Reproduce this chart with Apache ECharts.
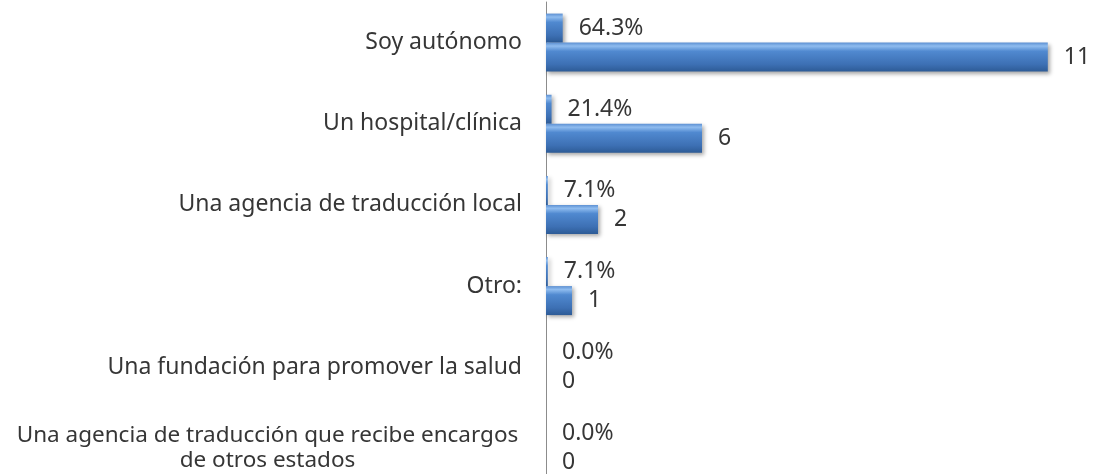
<!DOCTYPE html>
<html>
<head>
<meta charset="utf-8">
<script src="https://cdn.jsdelivr.net/npm/echarts@6/dist/echarts.min.js"></script>
<style>
  html, body { margin: 0; padding: 0; background: #fff; }
  #chart { width: 1097px; height: 474px; }
</style>
</head>
<body>
<div id="chart"></div>
<script>
const categories = [
  'Soy autónomo',
  'Un hospital/clínica',
  'Una agencia de traducción local',
  'Otro:',
  'Una fundación para promover la salud',
  'Una agencia de traducción que recibe encargos\nde otros estados',
]
// share of answers (fraction) and count of answers
const shares = [0.643, 0.214, 0.071, 0.071, 0, 0]
const counts = [11, 6, 2, 1, 0, 0]
// drawn length of the count bars (first bar is drawn longer than its value)
const countBars = [19.3, 6, 2, 1, 0, 0]

const textColor = '#363636'
const font = 'Noto Sans'
const fontSize = 23

const barFill = new echarts.graphic.LinearGradient(0, 0, 0, 1, [
  { offset: 0, color: '#5d90d2' },
  { offset: 0.12, color: '#8fbcef' },
  { offset: 0.3, color: '#5089d0' },
  { offset: 0.75, color: '#3d70b4' },
  { offset: 1, color: '#2d5b96' },
])

const barStyle = {
  color: barFill,
  shadowColor: 'rgba(0,0,0,0.35)',
  shadowBlur: 4,
  shadowOffsetX: 2,
  shadowOffsetY: 2,
}

const chart = echarts.init(document.getElementById('chart'))
chart.setOption({
  animation: false,
  grid: { left: 546, right: 5, top: 2, bottom: -15, outerBoundsMode: 'none' },
  xAxis: {
    type: 'value',
    min: 0,
    max: 21,
    show: false,
  },
  yAxis: {
    type: 'category',
    inverse: true,
    data: categories,
    axisLine: { show: true, lineStyle: { color: '#8c8c8c', width: 1 } },
    axisTick: { show: false },
    axisLabel: {
      color: textColor,
      fontFamily: font,
      fontSize: fontSize,
      margin: 24,
      formatter: (v) => {
        if (!v.includes('\n')) return v
        return v.split('\n').map(s => '{w|' + s + '}').join('\n')
      },
      rich: {
        w: {
          width: 501,
          align: 'center',
          fontFamily: font,
          fontSize: 22.5,
          lineHeight: 25,
          color: textColor,
          padding: [0, 4, 0, 0],
        },
      },
    },
  },
  series: [
    {
      name: 'share',
      type: 'bar',
      data: shares,
      barWidth: 29,
      barGap: '0%',
      itemStyle: barStyle,
      label: {
        show: true,
        position: 'right',
        distance: 16,
        color: textColor,
        fontFamily: font,
        fontSize: fontSize,
        formatter: p => (shares[p.dataIndex] * 100).toFixed(1) + '%',
      },
    },
    {
      name: 'count',
      type: 'bar',
      data: countBars,
      barWidth: 29,
      barGap: '0%',
      itemStyle: barStyle,
      label: {
        show: true,
        position: 'right',
        distance: 16,
        color: textColor,
        fontFamily: font,
        fontSize: fontSize,
        formatter: p => String(counts[p.dataIndex]),
      },
    },
  ],
})
</script>
</body>
</html>
